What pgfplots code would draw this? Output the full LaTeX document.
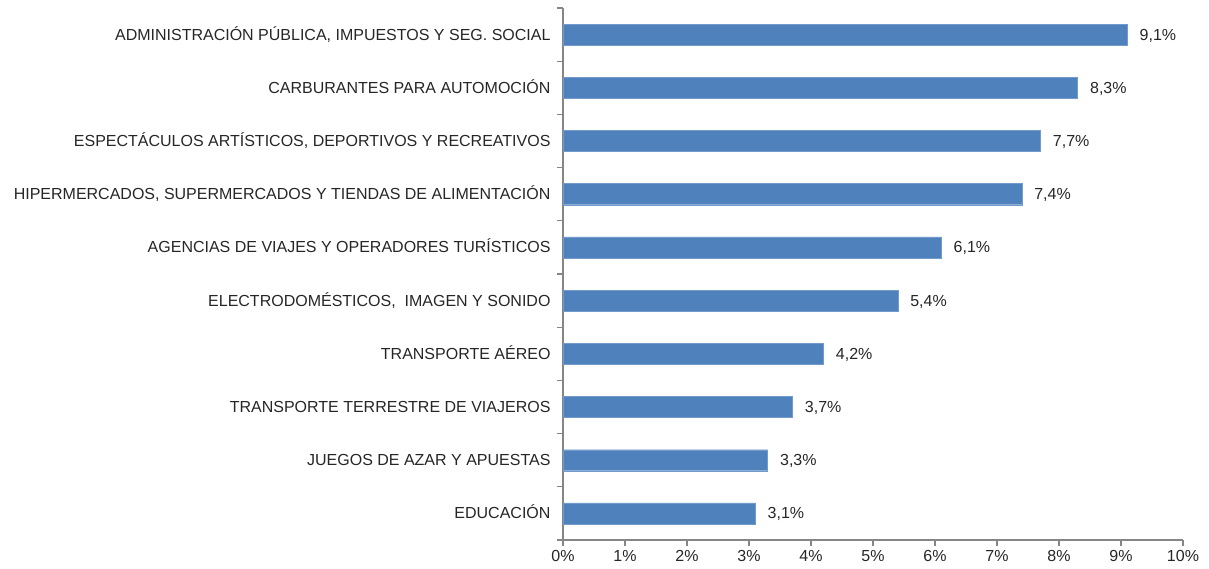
\documentclass[border=0pt]{standalone}
\usepackage{pgfplots}
\pgfplotsset{compat=1.18}
\usepackage{fontspec}
\setmainfont{Liberation Sans}
\definecolor{barblue}{HTML}{4F81BD}
\definecolor{axgray}{HTML}{868686}
\begin{document}
\begin{tikzpicture}
\path[use as bounding box] (-563pt,-28pt) rectangle (646pt,540pt);
\begin{axis}[
  at={(0,0)}, anchor=south west,
  scale only axis, width=620pt, height=532pt,
  xbar, bar width=21pt,
  xmin=0, xmax=10, ymin=-0.5, ymax=9.5,
  axis x line*=bottom, axis y line*=left,
  axis line style={axgray, line width=1.2pt},
  xtick={0,...,10},
  xticklabel={\pgfmathprintnumber{\tick}\%},
  /pgf/number format/assume math mode=true,
  ytick={0,...,9},
  yticklabels={EDUCACIÓN, JUEGOS DE AZAR Y APUESTAS, TRANSPORTE TERRESTRE DE VIAJEROS, TRANSPORTE AÉREO, {ELECTRODOMÉSTICOS,\ \ IMAGEN Y SONIDO}, AGENCIAS DE VIAJES Y OPERADORES TURÍSTICOS, {HIPERMERCADOS, SUPERMERCADOS Y TIENDAS DE ALIMENTACIÓN}, {ESPECTÁCULOS ARTÍSTICOS, DEPORTIVOS Y RECREATIVOS}, CARBURANTES PARA AUTOMOCIÓN, {ADMINISTRACIÓN PÚBLICA, IMPUESTOS Y SEG. SOCIAL}},
  major y tick style={draw=none},
  minor ytick={-0.5,0.5,...,9.5},
  minor y tick style={axgray, line width=1.2pt},
  minor tick length=6pt,
  major x tick style={axgray, line width=1.2pt},
  major tick length=6pt,
  tick align=outside,
  tick label style={font=\fontsize{16}{18}\selectfont, text=black!85},
  yticklabel style={xshift=-3pt, anchor=east, text height=14pt, text depth=3pt},
  xticklabel style={yshift=-1pt},
  nodes near coords={\pgfmathprintnumber[fixed,fixed zerofill,precision=1,use comma]{\pgfplotspointmeta}\%},
  nodes near coords align={horizontal},
  every node near coord/.append style={font=\fontsize{16}{18}\selectfont, text=black!85, xshift=9pt, anchor=west, text height=14pt, text depth=3pt},
  clip=false,
]
\addplot[fill=barblue, draw=barblue!80!white] coordinates {
(3.1,0) (3.3,1) (3.7,2) (4.2,3) (5.4,4) (6.1,5) (7.4,6) (7.7,7) (8.3,8) (9.1,9)};
\end{axis}
\end{tikzpicture}
\end{document}
